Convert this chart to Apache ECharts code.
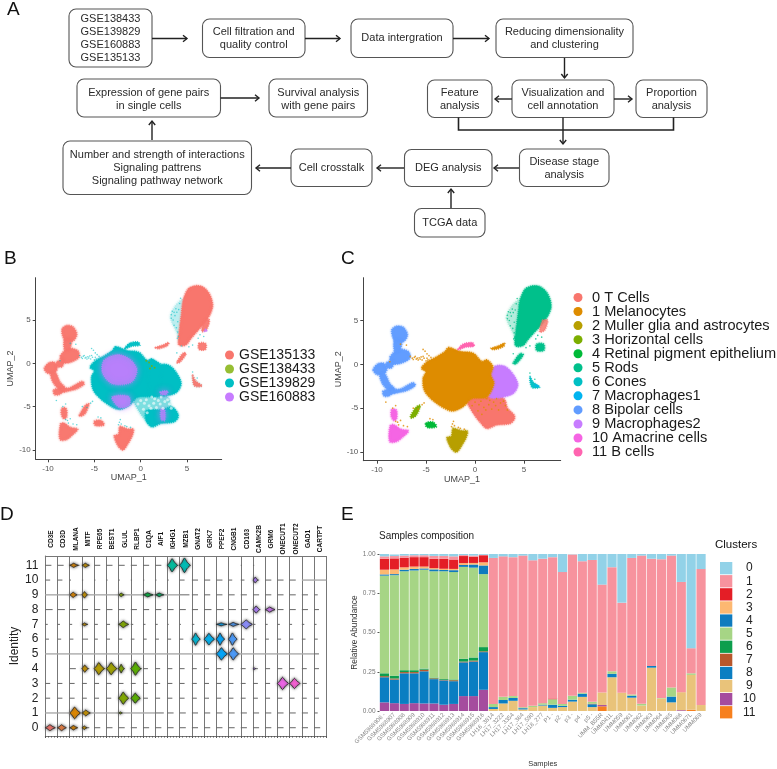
<!DOCTYPE html>
<html><head><meta charset="utf-8"><style>html,body{margin:0;padding:0;background:#fff}#c{width:777px;height:769px;filter:blur(.4px)}</style>
<script src="https://cdn.jsdelivr.net/npm/echarts@6/dist/echarts.min.js"></script></head>
<body><div id="c"></div>
<script>
// ---------- Panel A: flow chart text
const flowText = [
 ['GSE138433','GSE139829','GSE160883','GSE135133'],
 ['Cell filtration and','quality control'],
 ['Data intergration'],
 ['Reducing dimensionality','and clustering'],
 ['Feature','analysis'],
 ['Visualization and','cell annotation'],
 ['Proportion','analysis'],
 ['Expression of gene pairs','in single cells'],
 ['Survival analysis','with gene pairs'],
 ['Number and strength of interactions','Signaling pattrens','Signaling pathway network'],
 ['Cell crosstalk'],
 ['DEG analysis'],
 ['Disease stage','analysis'],
 ['TCGA data']
];
// ---------- Panels B / C: UMAP outlines (UMAP_1, UMAP_2)
const umapTicksX = [-10,-5,0,5], umapTicksY = [-10,-5,0,5];
const mainBlob = [[-2.7,1.9],[-1.5,1.45],[-0.2,1.25],[0.7,0.3],[1.2,0.5],[1.8,-0.25],[1.6,-1.2],[1.9,-2.2],[1.2,-3.7],[-0.35,-3.9],[-1.2,-4.8],[-2.4,-5.3],[-3.9,-4.45],[-5.1,-3.1],[-5.3,-1.6],[-5.0,-0.85],[-5.45,-0.45],[-4.85,0.3],[-3.9,0.85],[-3.05,1.45]];
const macroBlob = [[2.05,-0.25],[3.05,-0.25],[3.9,-1.2],[4.35,-2.35],[3.9,-3.3],[2.9,-3.7],[1.55,-3.75],[1.5,-2.55],[1.4,-1.6]];
const tcellBlob = [[-0.85,-3.9],[0.85,-3.7],[2.2,-3.6],[3.0,-4.0],[3.3,-5.0],[3.98,-5.8],[3.98,-6.3],[3.55,-6.75],[2.2,-6.9],[1.2,-7.3],[0.5,-6.55],[-0.15,-5.6]];
const tcellLow = [[0.65,-5.5],[2.2,-5.4],[3.4,-5.1],[3.98,-5.8],[3.98,-6.3],[3.55,-6.75],[2.2,-6.9],[1.2,-7.3],[0.6,-6.6]];
const mainMacroBridge = [[1.0,0.3],[2.2,-0.3],[1.8,-3.6],[1.0,-3.8]];
const rodsBlob = [[4.1,2.2],[4.2,3.9],[4.4,5.6],[4.6,7.3],[5.1,8.55],[5.6,8.85],[6.1,8.95],[6.6,8.85],[7.0,8.55],[7.4,8.0],[7.65,7.35],[7.75,6.6],[7.5,5.7],[7.0,4.85],[6.5,4.2],[5.95,3.55],[5.4,2.85],[4.95,2.2],[4.5,2.05]];
const rodsHalo = [[3.2,5.3],[3.7,6.6],[4.6,7.4],[4.9,5],[4.2,2.5],[3.9,3.5]];
const bipolarBlobs = [
 [[-8.5,3.9],[-8.0,4.35],[-7.3,4.2],[-6.9,3.35],[-7.3,2.6],[-8.2,2.7]],
 [[-8.65,0.85],[-7.8,1.7],[-6.8,1.45],[-6.65,0.7],[-7.65,0.1],[-8.5,0.1]],
 [[-10.4,-0.6],[-9.9,0.05],[-9.3,0.1],[-9.0,-0.5],[-9.2,-1.0],[-9.6,-1.2],[-10.1,-1.1]],
 [[-9.7,-1.2],[-9.2,-1.1],[-8.7,-2.2],[-8.2,-2.8],[-8.5,-3.2],[-9.4,-2.3]],
 [[-9.4,-3.1],[-8.8,-2.9],[-8.3,-3.1],[-8.8,-3.6],[-9.3,-3.6]],
 [[-8.5,-2.9],[-7.7,-2.85],[-6.9,-2.4],[-6.3,-2.1],[-6.1,-2.4],[-6.9,-2.95],[-7.8,-3.2],[-8.4,-3.3]],
 [[-9.0,0.2],[-8.3,0.4],[-8.5,-0.4],[-9.1,-0.3]],
 [[-8.2,2.8],[-7.5,2.7],[-7.7,1.6],[-8.2,1.5]]
];
const amacrineBlobs = [
 [[-8.65,-7.0],[-8.3,-6.9],[-7.6,-7.4],[-6.8,-7.6],[-7.4,-8.3],[-8.0,-8.8],[-8.7,-8.8]],
 [[-8.5,-5.2],[-8.05,-5.2],[-8.0,-6.2],[-8.3,-6.4],[-8.55,-5.9]]
];
const horizontalBlob = [[-6.6,-6],[-6.0,-4.9],[-5.6,-4.7],[-6.0,-5.8],[-6.45,-6.1]];
const rpeBlob = [[-5.0,-6.7],[-4.3,-6.6],[-3.95,-7.1],[-4.8,-7.2],[-5.0,-7.0]];
const mullerBlob = [[-2.85,-8.4],[-2.4,-8.2],[-2.25,-7.3],[-1.9,-7.4],[-1.3,-7.6],[-0.8,-7.6],[-0.9,-8.3],[-1.4,-9.3],[-1.9,-10],[-2.4,-9.6]];
const bCellBlob = [[-1.7,1.7],[-1.2,2.3],[-0.3,2.45],[-0.1,2.1],[-0.9,2.0]];
const coneBlob = [[5.6,-1.4],[5.9,-2.0],[6.6,-2.6],[5.8,-2.6]];
const streakBlobs = [
 [[1.6,1.8],[2.4,2.1],[3.0,2.4],[2.9,2.05],[2.0,1.7]],
 [[3.9,0.1],[4.6,1.2],[4.9,1.1],[4.2,0.1]],
 [[6.3,2.3],[7.0,2.3],[7.0,1.6],[6.3,1.6]]
];
const sideBlob = [[6.9,5],[7.4,5],[7.1,3.9],[6.6,3.7]];
const purpleCenter = [[-4,0.3],[-2.6,1.0],[-1.2,0.5],[-0.4,-0.7],[-1,-2.2],[-3,-2.4],[-4.1,-1.2]];
const purpleLow = [[-3.1,-3.9],[-1.3,-3.8],[-1.2,-4.8],[-2.3,-5.1]];
const purplePatch = [[2.1,-3.3],[2.9,-3.2],[2.8,-3.6],[2.2,-3.6]];
const purpleStrip = [[2.2,-5.3],[2.6,-5.4],[2.6,-6.6],[2.2,-6.5]];
// sparse cells between the islands
const wispBridge = [[-6.6,0.9],[-6.3,0.55],[-6.2,0.8],[-6.0,0.6],[-5.8,0.5],[-5.7,0.75],[-5.5,0.85],[-5.4,0.5],[-5.2,0.7],[-5.0,0.4],[-4.8,0.5],[-5.1,1.5],[-4.9,1.2],[-4.7,1.0],[-4.5,0.8],[-5.3,1.7],[-6.4,0.7],[-6.1,0.9],[-5.9,0.7],[-5.6,0.6],[-5.3,0.9],[-4.9,0.7]];
const wispIslands = [[-8.4,-5.0],[-8.1,-4.7],[-7.9,-6.6],[-7.6,-6.4],[-7.3,-7.0],[-6.9,-7.1],[-5.4,-4.6],[-5.2,-4.4],[-4.6,-6.2],[-4.3,-6.3],[-2.3,-6.8],[-2.2,-6.5],[-1.5,-7.3],[-1.1,-7.4],[-9.1,-4.3],[-7.6,2.3],[-7.0,2.2],[-8.7,0.3],[-2.4,-7.1],[-2.1,-7.0],[-1.7,-7.2],[-7.8,-6.9],[-8.1,-6.5],[-6.3,-5.0],[-5.8,-5.1]];
const wispTcell = [[0.0,-4.3],[0.4,-4.6],[0.9,-4.9],[1.4,-4.6],[1.9,-4.3],[2.6,-4.4],[3.1,-4.7],[1.1,-5.2],[-0.3,-4.7],[0.3,-5.3],[1.7,-5.1],[2.4,-5.2],[3.3,-5.2],[2.9,-4.2],[0.6,-4.2],[1.2,-3.9],[2.1,-4.7],[0.7,-5.7],[1.5,-4.1],[2.2,-3.9]];
const wispRods = [[3.3,5.6],[3.5,5.0],[3.8,6.3],[3.6,4.4],[4.0,4.8],[4.2,6.9],[4.4,2.0],[5.2,1.9],[5.6,2.1],[6.2,2.9],[6.4,3.3],[3.9,1.2],[5.6,-1.0],[6.1,-1.7],[6.8,3.1],[4.3,7.5],[3.4,6.0],[3.7,5.5],[3.9,5.9],[4.0,3.6],[3.85,4.1],[3.6,5.9],[4.1,6.2],[3.3,5.2],[3.95,2.9],[4.05,3.1]];
// ---------- Panel D: stacked violins
const violinGenes = ['CD3E','CD3D','MLANA','MITF','RPE65','BEST1','GLUL','RLBP1','C1QA','AIF1','IGHG1','MZB1','GNAT2','GRK7','PPEF2','CNGB1','CD163','CAMK2B','GRM6','ONECUT1','ONECUT2','GAD1','CARTPT'];
const identityTicks = [0,1,2,3,4,5,6,7,8,9,10,11];
// [gene index, identity, width in columns, half height in identities]
const violins = [
 [2,11,.7,.14],[3,11,.6,.14],[10,11,.82,.45],[11,11,.85,.5],
 [17,10,.4,.2],
 [2,9,.6,.18],[3,9,.45,.22],[6,9,.45,.12],[8,9,.82,.14],[9,9,.7,.12],
 [17,8,.55,.25],[18,8,.8,.17],
 [3,7,.45,.1],[6,7,.82,.22],[14,7,.85,.1],[15,7,.82,.13],[16,7,.95,.3],
 [12,6,.65,.42],[13,6,.85,.4],[14,6,.65,.42],[15,6,.68,.42],
 [14,5,.9,.42],[15,5,.82,.42],
 [3,4,.5,.25],[4,4,.82,.42],[5,4,.85,.42],[6,4,.45,.3],[7,4,.82,.45],[17,4,.2,.07],
 [19,3,.9,.42],[20,3,.85,.35],
 [6,2,.82,.42],[7,2,.78,.35],
 [2,1,.87,.4],[3,1,.68,.2],[6,1,.3,.07],
 [0,0,.82,.2],[1,0,.72,.2],[2,0,.65,.15],[3,0,.42,.12]
];
// length of the flat baseline per gene, one list per identity (index = identity)
const baseLens = [
 [.6,.6,.6,.6,.5,.5,.5,.5,.5,.5,.5,.5,.5,.5,.5,.5,.5,.5,.5,.5,.5,.5,.5],
 [1,1,1,1,1,1,1,1,1,.7,.5,.5,.5,.5,.5,.5,.5,.5,.5,.5,.5,.5,.3],
 [.4,.4,.4,.4,.4,.4,.4,.6,.4,.4,.4,.4,.4,.4,.4,.4,.4,.4,.4,.4,.4,.4,.4],
 [.4,.4,.4,.4,.4,.4,.4,.4,.4,.4,.4,.4,.4,.4,.4,.4,.4,.4,.4,.5,.5,.4,.3],
 [0,0,.5,.6,.9,.9,.5,.9,.4,.4,.4,.4,.4,.4,.4,.4,.4,.4,.4,.4,.4,.4,.4],
 [1,1,1,1,1,1,1,1,1,1,1,1,1,1,1,1,1,1,1,1,1,1,.4],
 [.3,.3,.3,.5,.3,.3,.3,.3,.3,.3,.3,.3,.7,.8,.7,.7,.3,.3,.3,.3,.3,.3,.3],
 [.2,.2,.2,.5,.3,.3,.8,.2,.2,.2,.1,.1,.2,.2,.9,.9,.9,.2,.2,.2,.2,.2,.2],
 [.6,.6,.5,.5,.5,.5,.5,.5,.5,.5,.5,.5,.5,.6,.6,.6,.6,.6,.8,.5,.5,.5,.4],
 [1,1,1,1,1,1,1,1,1,1,1,.8,.5,.5,.5,.5,.5,.5,.5,.5,.5,.5,.3],
 [.4,.4,.1,.1,.1,.1,.1,.1,.1,.1,.1,.4,.5,.5,.5,.3,.3,.5,.5,.5,.5,1,1],
 [.5,.5,.8,.6,.5,.5,.5,.5,.5,.5,.9,.9,0,0,0,0,.1,.1,0,0,0,0,0]
];
const geneColors = ['#F8766D','#EE8042','#E28900','#CC9600','#B8A000','#A3A500','#84AD00','#5BB300','#00BA42','#00BD6A','#00BFA0','#00BFB8','#00BBDA','#00B2F0','#00A8FF','#4C9DFF','#8E90FF','#B383FF','#D078F5','#F066EA','#FB61D7','#FF63B6','#FF6C92'];
// ---------- Panel E: composition of each sample
const samples = ['GSM5988906 -','GSM5988907','GSM5988908','GSM5988909','GSM5988910','GSM5988911','GSM5988912','GSM5988913','GSM5988914','GSM5988915','GSM5988916','LH16_3814','LH17_3222','LH17_3354','LH17_364','LH17_590','LH18_277','P1 -','p2 -','p3 -','p4 -','p5 -','UMM_B55R','UMM041L','UMM059','UMM061','UMM062','UMM063','UMM064','UMM065','UMM066','UMM067L','UMM069'];
const cluster0 = [.015,.01,.01,.008,.008,.012,.012,.015,.007,.01,.005,.025,.015,.02,.01,.04,.03,.02,.115,.002,.046,.038,.195,.084,.31,.025,.01,.03,.033,.01,.178,.60,.096];
const cluster1 = [.015,.015,.015,.012,.012,.018,.018,.02,.006,.007,.003,.93,.895,.885,.966,.927,.92,.9,.84,.90,.837,.903,.687,.663,.573,.87,.944,.683,.884,.84,.702,.16,.866];
const cluster2 = [.07,.07,.06,.06,.06,.06,.064,.06,.045,.04,.045,0,0,0,0,0,0,.005,0,0,0,0,0,0,0,0,0,0,0,0,0,0,0];
const cluster3 = [.03,.03,.015,.015,.012,.008,.008,.008,.012,.01,.02,0,0,0,0,0,0,0,0,0,0,0,0,0,0,0,0,0,0,0,0,0,0];
const cluster4 = [.008,.007,.01,.01,.008,.012,.008,.012,.012,.02,.055,0,0,0,0,0,0,0,0,0,0,0,0,0,0,0,0,0,0,0,0,0,0];
const cluster5 = [.622,.64,.63,.635,.63,.677,.686,.684,.585,.572,.465,.02,.02,.012,.006,.008,.01,.035,.012,.025,.007,.012,0,.016,0,.008,.011,0,.003,.058,0,.01,0];
const cluster6 = [.018,.018,.012,.012,.007,.005,.005,.005,.018,.02,.027,0,0,0,0,0,0,0,0,0,0,0,0,0,0,0,0,0,0,0,0,0,0];
const cluster7 = [.007,.007,.008,.008,.01,.005,.004,.006,.005,.006,.005,0,0,0,0,0,0,0,0,0,0,.004,0,0,0,0,0,0,0,0,0,0,0];
const cluster8 = [.16,.15,.195,.19,.205,.155,.155,.145,.215,.22,.24,.012,.022,.018,.008,0,.005,.02,.008,.012,.02,.018,0,.022,0,.012,0,.011,0,.037,0,0,0];
const cluster9 = [0,0,0,0,0,0,0,0,0,0,0,.013,.048,.065,.01,.025,.035,.02,.025,.06,.09,.025,.08,.215,.117,.085,.035,.276,.08,.055,.115,.222,.038];
const cluster10 = [.055,.05,.045,.05,.048,.048,.04,.045,.095,.095,.135,0,0,0,0,0,0,0,0,0,0,0,.008,0,0,0,0,0,0,0,.005,0,0];
const cluster11 = [0,0,0,0,0,0,0,0,0,0,0,0,0,0,0,0,0,0,0,0,0,0,.03,0,0,0,0,0,0,0,0,.008,0];
const clusterValues = [cluster0,cluster1,cluster2,cluster3,cluster4,cluster5,cluster6,cluster7,cluster8,cluster9,cluster10,cluster11];
const clusterNames = ['0','1','2','3','4','5','6','7','8','9','10','11'];
const clusterColors = ['#92D2E8','#F7939E','#E41E26','#FDB871','#0F7BBE','#A6D585','#0D9E4D','#B8572C','#0A7EC2','#E9C37A','#A54C9E','#F7801E'];
const batchNames = ['GSE135133','GSE138433','GSE139829','GSE160883'];
const batchColors = ['#F8766D','#7CAE00','#00BFC4','#C77CFF'];
const cellNames = ['0 T Cells','1 Melanocytes','2 Muller glia and astrocytes','3 Horizontal cells','4 Retinal pigment epithelium','5 Rods','6 Cones','7 Macrophages1','8 Bipolar cells','9 Macrophages2','10 Amacrine cells','11 B cells'];
const cellColors = ['#F8766D','#DE8C00','#B79F00','#7CAE00','#00BA38','#00C08B','#00BFC4','#00B4F0','#619CFF','#C77CFF','#F564E3','#FF64B0'];

// ---------- layout of panel A (pixels)
const FONT='"Liberation Sans",Arial,sans-serif';
const flowBoxes = [[69,9,83,58,19,13],[202.5,19,102.5,38.5,32,13],[351,19,102,38.5,38,13],[496,19,137,38.5,32,13],[427.5,80,64.5,37.5,93,13],[512,80,102,37.5,93,13],[636,80,71,37.5,93,13],[77,79,143.5,38,93,12.5],[269,79,98.5,38,93,12.5],[63,141,188.5,53.5,155,13],[291,149,81,37.5,168,13],[404.5,149.5,87.5,37,168,13],[519.5,149,89.5,37.5,162,13],[414.5,208.5,70.5,28.5,223,13]];
const flowArrows = [[152,38.5,187,38.5],[305,38.5,340,38.5],[453,38.5,489,38.5],[564.5,58,564.5,78],[512,99,495,99],[614,99,632,99],[220.5,98,259,98],[152,140,152,121],[291,168,256,168],[404,168,377,168],[519,168,494,168],[451,208,451,189],[563,130,563,144]];
const gfx=[];
flowBoxes.forEach((b,i)=>{
  gfx.push({type:'rect',shape:{x:b[0],y:b[1],width:b[2],height:b[3],r:7},style:{fill:'#fff',stroke:'#555',lineWidth:1.1}});
  flowText[i].forEach((t,j)=>gfx.push({type:'text',x:b[0]+b[2]/2,y:b[4]+j*b[5],style:{text:t,font:'11px '+FONT,fill:'#2a2a2a',align:'center',verticalAlign:'middle'}}));
});
flowArrows.forEach(a=>{
  const dx=Math.sign(a[2]-a[0]),dy=Math.sign(a[3]-a[1]);
  const st={stroke:'#222',lineWidth:1.4,fill:null};
  gfx.push({type:'line',shape:{x1:a[0],y1:a[1],x2:a[2],y2:a[3]},style:st});
  gfx.push({type:'polyline',shape:{points:[[a[2]-dx*4-dy*3.2,a[3]-dy*4-dx*3.2],[a[2],a[3]],[a[2]-dx*4+dy*3.2,a[3]-dy*4+dx*3.2]]},style:st});
});
gfx.push({type:'polyline',shape:{points:[[458.5,117.5],[458.5,130],[673.5,130],[673.5,117.5]]},style:{stroke:'#222',lineWidth:1.6,fill:null}});
gfx.push({type:'line',shape:{x1:563,y1:117.5,x2:563,y2:130},style:{stroke:'#222',lineWidth:1.4}});
[['A',7,10],['B',4,259],['C',341,259],['D',0,515],['E',341,515]].forEach(p=>gfx.push({type:'text',x:p[1],y:p[2],style:{text:p[0],font:'19px '+FONT,fill:'#111',verticalAlign:'middle'}}));
gfx.push({type:'text',x:715,y:545,style:{text:'Clusters',font:'11.5px '+FONT,fill:'#111',verticalAlign:'middle'}});
gfx.push({type:'text',x:379,y:536,style:{text:'Samples composition',font:'10px '+FONT,fill:'#222',verticalAlign:'middle'}});

// ---------- helpers
function blobs(name,ax,outlines,color,opacity,blur){
  return {type:'custom',name,coordinateSystem:'cartesian2d',xAxisIndex:ax,yAxisIndex:ax,silent:true,animation:false,
    itemStyle:{color},clip:true,
    data:outlines.map((o,i)=>[o[0][0],o[0][1],i]),
    renderItem:(p,api)=>({type:'polygon',shape:{points:outlines[p.dataIndex].map(c=>api.coord(c)),smooth:.3},
      style:{fill:color,stroke:color,lineWidth:1.8,lineDash:[.8,1.3],opacity:opacity==null?1:opacity,shadowBlur:blur==null?2:blur,shadowColor:color}})};
}
function dots(name,ax,pts,color,size,opacity){
  return {type:'scatter',name,xAxisIndex:ax,yAxisIndex:ax,silent:true,animation:false,data:pts,symbolSize:size||1.8,itemStyle:{color,opacity:opacity==null?.8:opacity}};
}
function umapAxes(gi){
  const x={gridIndex:gi,type:'value',min:gi===0?-11.33:-11.4,max:8.74,name:'UMAP_1',nameLocation:'middle',nameGap:14,nameTextStyle:{fontSize:9,color:'#444',fontFamily:FONT},
    axisLine:{onZero:false,lineStyle:{color:'#444'}},axisTick:{show:true,length:3,customValues:umapTicksX,lineStyle:{color:'#444'}},splitLine:{show:false},
    axisLabel:{customValues:umapTicksX,fontSize:8,color:'#555',margin:5,fontFamily:FONT,showMinLabel:true,showMaxLabel:true}};
  const y={gridIndex:gi,type:'value',min:gi===0?-11.08:-10.99,max:9.88,name:'UMAP_2',nameLocation:'middle',nameGap:gi===0?17:16,nameTextStyle:{fontSize:9,color:'#444',fontFamily:FONT},
    axisLine:{onZero:false,lineStyle:{color:'#444'}},axisTick:{show:true,length:3,customValues:umapTicksY,lineStyle:{color:'#444'}},splitLine:{show:false},
    axisLabel:{customValues:umapTicksY,fontSize:8,color:'#555',margin:5,fontFamily:FONT}};
  return [x,y];
}
const [bx,by]=umapAxes(0), [cx,cy]=umapAxes(1);

// Panel B series
const [RED,OLIVE,TEAL,PURP]=batchColors, [G135,G138,G139,G160]=batchNames;
const B=[
 blobs(G139,0,[tcellBlob],TEAL,.3,3),
 blobs(G139,0,[tcellLow,macroBlob,mainBlob,mainMacroBridge],TEAL,1,2),
 blobs(G139,0,[rodsHalo,coneBlob],TEAL,.14,3),
 blobs(G135,0,[rodsBlob],RED,1,2),
 blobs(G135,0,bipolarBlobs,RED,.85,2),
 blobs(G135,0,amacrineBlobs,RED,.85,2),
 blobs(G135,0,[horizontalBlob,rpeBlob,mullerBlob],RED,.9,2),
 blobs(G135,0,streakBlobs.concat([sideBlob,coneBlob]),RED,.75,1),
 blobs(G139,0,[bCellBlob],TEAL,.85,1),
 blobs(G160,0,[purpleCenter,purpleLow,purplePatch,purpleStrip],PURP,.72,6),
 dots(G139,0,wispBridge.concat(wispIslands,wispRods),TEAL,1.6,.6),
 dots('white',0,wispTcell,'#ffffff',3,.6),
 dots(G138,0,[[0.9,0.1],[1.2,-0.3],[1.0,-0.6],[1.5,-0.5],[0.6,0.3]],OLIVE,2,.8),
 dots(G160,0,[[7.0,3.9],[7.1,3.75],[6.9,3.7]],PURP,2,.9)
];
// Panel C series
const C=[
 blobs(cellNames[0],1,[tcellBlob],cellColors[0],1,2),
 blobs(cellNames[9],1,[macroBlob],cellColors[9],1,2),
 blobs(cellNames[1],1,[mainBlob],cellColors[1],1,2),
 blobs(cellNames[5],1,[rodsHalo],cellColors[5],.16,3),
 blobs(cellNames[5],1,[rodsBlob,streakBlobs[2],streakBlobs[1]],cellColors[5],1,2),
 blobs(cellNames[8],1,bipolarBlobs,cellColors[8],.9,2),
 blobs(cellNames[10],1,amacrineBlobs,cellColors[10],.9,2),
 blobs(cellNames[3],1,[horizontalBlob],cellColors[3],1,1),
 blobs(cellNames[4],1,[rpeBlob],cellColors[4],1,1),
 blobs(cellNames[2],1,[mullerBlob],cellColors[2],1,2),
 blobs(cellNames[11],1,[bCellBlob],cellColors[11],1,1),
 blobs(cellNames[1],1,[streakBlobs[0]],cellColors[1],.9,1),
 blobs(cellNames[6],1,[coneBlob],cellColors[6],.8,1),
 blobs(cellNames[0],1,[sideBlob],cellColors[0],.6,1),
 dots(cellNames[1],1,wispBridge.concat(wispIslands,wispTcell),cellColors[1],1.7,.8),
 dots(cellNames[5],1,wispRods,cellColors[5],1.6,.8),
 dots(cellNames[7],1,[[6.2,-2.4],[6.4,-2.5]],cellColors[7],2,1)
];
// Panel D series
const baseData=[];
baseLens.forEach((row,id)=>row.forEach((l,g)=>{if(l>0)baseData.push([g,id,l]);}));
const D=[
 {type:'custom',xAxisIndex:2,yAxisIndex:2,silent:true,animation:false,data:baseData,renderItem:(p,api)=>{
   const g=api.value(0),id=api.value(1),l=api.value(2);const a=api.coord([g,id]),b=api.coord([g+l,id]);
   const wide=l>=1;
   return {type:'line',shape:{x1:a[0],y1:a[1],x2:b[0],y2:b[1]},style:{stroke:wide?'#aaa':'#666',lineWidth:wide?1.4:1}};}},
 {type:'custom',xAxisIndex:2,yAxisIndex:2,silent:true,animation:false,data:violins,renderItem:(p,api)=>{
   const g=api.value(0),id=api.value(1),w=api.value(2),h=api.value(3);
   const o=api.coord([g,id]),ww=api.coord([g+w,id])[0]-o[0],hh=o[1]-api.coord([g,id+h])[1];
   const pts=[[0,0],[.2*ww,.35*hh],[.46*ww,hh],[.72*ww,.42*hh],[ww,0],[.72*ww,-.42*hh],[.46*ww,-hh],[.2*ww,-.35*hh]].map(q=>[o[0]+q[0],o[1]+q[1]]);
   return {type:'polygon',shape:{points:pts,smooth:.15},style:{fill:geneColors[g],stroke:'#222',lineWidth:.8,shadowBlur:3,shadowColor:'#444'}};}}
];
// Panel E series (stacked so that cluster 0 is on top)
const E=clusterNames.map((n,i)=>({name:n,type:'bar',stack:'s',xAxisIndex:4,yAxisIndex:3,barWidth:9.2,animation:false,silent:true,itemStyle:{color:clusterColors[i]},data:clusterValues[i]})).reverse();

const grids=[
 {left:35.7,top:277.7,width:186,height:181.6},
 {left:363.3,top:277.7,width:197.4,height:183},
 {left:45.3,top:556,width:281,height:180},
 {left:379.5,top:554,width:326.5,height:159.3}
];
const option={
 animation:false,backgroundColor:'#fff',textStyle:{fontFamily:FONT},
 graphic:{elements:gfx},
 grid:grids,
 xAxis:[bx,cx,
  {gridIndex:2,type:'value',min:0,max:23,interval:1,axisLine:{onZero:false,lineStyle:{color:'#777'}},axisTick:{show:true,length:2,lineStyle:{color:'#555'}},minorTick:{show:true,splitNumber:4,length:1.5,lineStyle:{color:'#555'}},axisLabel:{show:false},splitLine:{show:true,lineStyle:{color:'#777',width:1}}},
  {gridIndex:2,type:'category',position:'top',data:violinGenes,axisLine:{show:true,onZero:false,lineStyle:{color:'#777'}},axisTick:{show:false},splitLine:{show:false},axisLabel:{interval:0,rotate:-90,align:'center',verticalAlign:'middle',margin:17,fontSize:6.5,fontWeight:'bold',color:'#111',fontFamily:FONT}},
  {gridIndex:3,type:'category',data:samples,name:'Samples',nameLocation:'middle',nameGap:49,nameTextStyle:{fontSize:7.5,color:'#333'},axisLine:{show:false},axisTick:{show:false},axisLabel:{interval:0,rotate:45,fontSize:6,color:'#888',margin:3,fontFamily:FONT}}
 ],
 yAxis:[by,cy,
  {gridIndex:2,type:'value',min:-.56,max:11.63,name:'Identity',nameLocation:'middle',nameGap:22,nameTextStyle:{fontSize:12,color:'#222'},axisLine:{show:true,onZero:false,lineStyle:{color:'#777'}},axisTick:{show:false,customValues:identityTicks},splitLine:{show:false},axisLabel:{customValues:identityTicks,fontSize:12,color:'#222',margin:7,fontFamily:FONT}},
  {gridIndex:3,type:'value',min:0,max:1,interval:.25,name:'Relative Abundance',nameLocation:'middle',nameGap:21,nameTextStyle:{fontSize:8.3,color:'#333'},axisLine:{show:false},axisTick:{show:true,length:2,lineStyle:{color:'#555'}},splitLine:{show:false},axisLabel:{fontSize:6.5,color:'#777',margin:4,formatter:v=>v.toFixed(2),fontFamily:FONT}}
 ],
 legend:[
  {data:batchNames,selectedMode:false,orient:'vertical',left:225,top:348,itemWidth:9,itemHeight:9,itemGap:0,icon:'circle',padding:0,textStyle:{fontSize:14,color:'#1a1a1a',fontFamily:FONT}},
  {data:cellNames,selectedMode:false,orient:'vertical',left:573.5,top:290,itemWidth:18,itemHeight:9,itemGap:-.95,icon:'circle',padding:0,textStyle:{fontSize:14.6,lineHeight:14,color:'#1a1a1a',fontFamily:FONT}},
  {data:clusterNames,selectedMode:false,orient:'vertical',left:720,top:562,itemWidth:12.3,itemHeight:12.3,itemGap:.8,icon:'rect',padding:0,formatter:n=>'{a|'+n+'}',textStyle:{color:'#222',fontFamily:FONT,rich:{a:{width:24,align:'center',fontSize:12,color:'#222'}}}}
 ],
 series:[...B,...C,...D,...E]
};
const chart=echarts.init(document.getElementById('c'),null,{renderer:'canvas'});
chart.setOption(option);
</script></body></html>
